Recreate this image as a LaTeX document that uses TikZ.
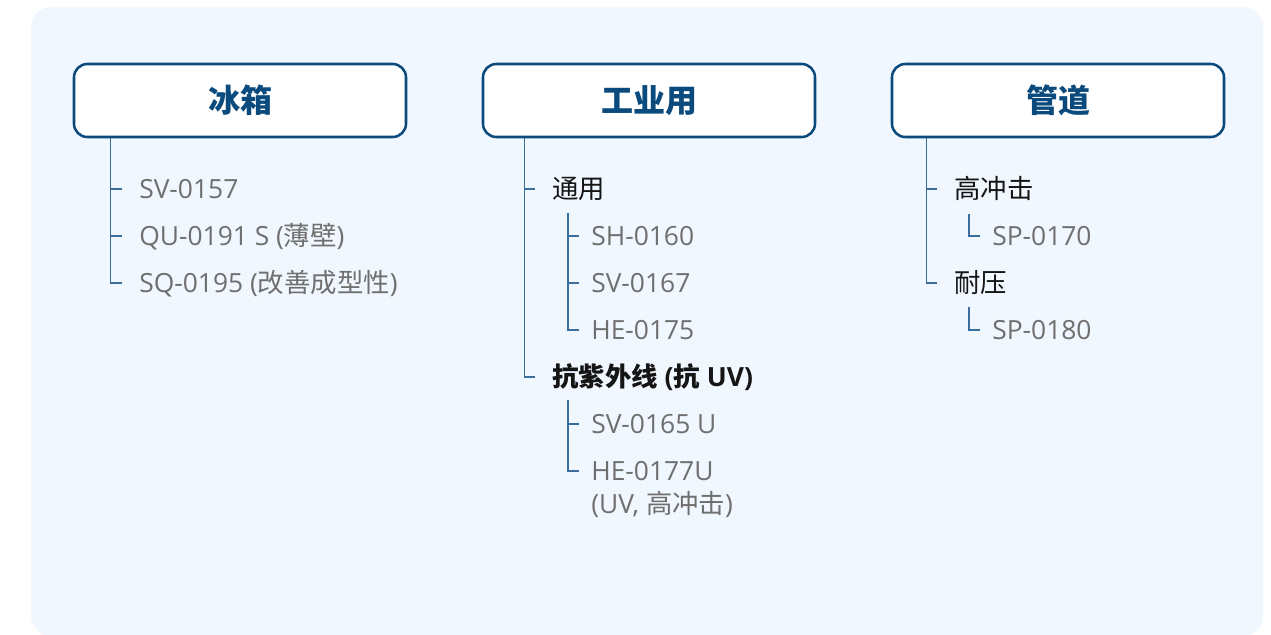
\documentclass[tikz,border=0pt]{standalone}
\usepackage{fontspec}
\setmainfont{Open Sans}
\newfontfamily\cjk{Noto Sans CJK SC}
\usetikzlibrary{calc}
\definecolor{panel}{HTML}{F0F7FE}
\definecolor{boxblue}{HTML}{0B4A7C}
\definecolor{treeblue}{HTML}{3A6E9C}
\definecolor{textgray}{HTML}{6F6F6F}
\definecolor{textblack}{HTML}{151515}
\begin{document}
\begin{tikzpicture}[x=0.75pt,y=-0.75pt,
  titlebox/.style={draw=boxblue, line width=1.9pt, fill=white, rounded corners=10pt,
    minimum width=249pt, minimum height=54.75pt, inner sep=0pt, text=boxblue,
    font=\fontsize{24}{28}\selectfont\cjk\bfseries},
  item/.style={anchor=base west, inner sep=0pt, text=textgray, font=\fontsize{19.8}{24}\selectfont},
  cat/.style={anchor=base west, inner sep=0pt, text=textblack, font=\fontsize{19.8}{24}\selectfont},
  tree/.style={draw=treeblue, line width=0.9pt}]
\useasboundingbox (0,0) rectangle (1271,635);
\fill[panel, rounded corners=15pt] (31,7) rectangle (1263,636);

% titles
\node[titlebox] (cold) at (240,100.5) {冰箱};
\node[titlebox] (ind) at (649,100.5) {工业用};
\node[titlebox] (pipe) at (1058,100.5) {管道};

\coordinate (ta) at (110.5,0);
\coordinate (tb) at (524.5,0);
\coordinate (tc) at (926.5,0);

% left column
\node[item] (sv157) at (139,198) {SV-0157};
\node[item] (qu191) at (139,245) {QU-0191 S ({\cjk 薄壁})};
\node[item] (sq195) at (139,292) {SQ-0195 ({\cjk 改善成型性})};

% middle column
\node[cat] (gen) at (552,198) {\cjk 通用};
\node[item] (sh160) at (591,245) {SH-0160};
\node[item] (sv167) at (591,292) {SV-0167};
\node[item] (he175) at (591,339) {HE-0175};
\node[cat, font=\fontsize{19.8}{24}\selectfont\bfseries] (uv) at (552,386) {{\cjk 抗紫外线} ({\cjk 抗} UV)};
\node[item] (sv165) at (591,433) {SV-0165 U};
\node[item] (he177) at (591,480) {HE-0177U};
\node[item] (he177b) at (591,513) {(UV, {\cjk 高冲击})};

% right column
\node[cat] (hi) at (954,198) {\cjk 高冲击};
\node[item] (sp170) at (992,245) {SP-0170};
\node[cat] (pr) at (954,292) {\cjk 耐压};
\node[item] (sp180) at (992,339) {SP-0180};

% left connectors
\draw[tree] (cold.south -| ta) |- ($(sq195.base west)+(-17,-9)$);
\draw[tree] ($(sv157.base west)+(-28.5,-9)$) -- ($(sv157.base west)+(-17,-9)$);
\draw[tree] ($(qu191.base west)+(-28.5,-9)$) -- ($(qu191.base west)+(-17,-9)$);

% middle connectors
\draw[tree] (ind.south -| tb) |- ($(uv.base west)+(-17,-9)$);
\draw[tree] ($(gen.base west)+(-27.5,-9)$) -- ($(gen.base west)+(-17,-9)$);
\draw[tree] ($(gen.base west)+(16,15)$) |- ($(he175.base west)+(-12,-9)$);
\draw[tree] ($(sh160.base west)+(-23,-9)$) -- ($(sh160.base west)+(-12,-9)$);
\draw[tree] ($(sv167.base west)+(-23,-9)$) -- ($(sv167.base west)+(-12,-9)$);
\draw[tree] ($(uv.base west)+(16,14)$) |- ($(he177.base west)+(-12,-9)$);
\draw[tree] ($(sv165.base west)+(-23,-9)$) -- ($(sv165.base west)+(-12,-9)$);

% right connectors
\draw[tree] (pipe.south -| tc) |- ($(pr.base west)+(-17,-9)$);
\draw[tree] ($(hi.base west)+(-27.5,-9)$) -- ($(hi.base west)+(-17,-9)$);
\draw[tree] ($(hi.base west)+(15,16)$) |- ($(sp170.base west)+(-12,-9)$);
\draw[tree] ($(pr.base west)+(15,15)$) |- ($(sp180.base west)+(-12,-9)$);
\end{tikzpicture}
\end{document}
